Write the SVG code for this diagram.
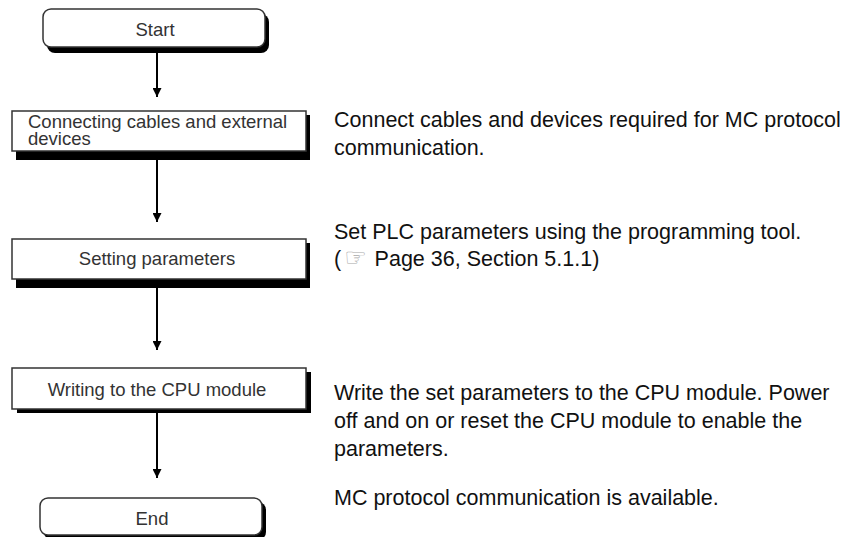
<svg xmlns="http://www.w3.org/2000/svg" width="847" height="537" viewBox="0 0 847 537">
<defs>
<marker id="ah" viewBox="0 0 10 10" refX="10" refY="5" markerWidth="10" markerHeight="9" markerUnits="userSpaceOnUse" orient="auto">
<path d="M0,0 L10,5 L0,10 Z" fill="#000"/>
</marker>
</defs>
<style>
.box{fill:#fff;stroke:#333;stroke-width:1.5}
.sh{fill:#000}
.lbl{font-family:"Liberation Sans",Arial,sans-serif;font-size:18.5px;fill:#333}
.desc{font-family:"Liberation Sans",Arial,sans-serif;font-size:21.5px;fill:#111}
.conn{stroke:#000;stroke-width:2;fill:none}
</style>
<rect width="847" height="537" fill="#fff"/>
<g id="connectors">
<line class="conn" x1="157" y1="52" x2="157" y2="97" marker-end="url(#ah)"/>
<line class="conn" x1="157" y1="160" x2="157" y2="222" marker-end="url(#ah)"/>
<line class="conn" x1="157" y1="288" x2="157" y2="350" marker-end="url(#ah)"/>
<line class="conn" x1="157" y1="413" x2="157" y2="478" marker-end="url(#ah)"/>
</g>
<g id="start">
<rect class="sh" x="47" y="14" width="222" height="39" rx="8"/>
<rect class="box" x="43" y="9" width="222" height="38" rx="8"/>
<text class="lbl" x="155" y="36" text-anchor="middle">Start</text>
</g>
<g id="connecting">
<rect class="sh" x="16" y="115" width="294" height="45"/>
<rect class="box" x="12" y="111" width="294" height="40"/>
<text class="lbl" x="28" y="128" style="font-size:18.5px">Connecting cables and external</text>
<text class="lbl" x="28" y="144.5" style="font-size:18.5px">devices</text>
</g>
<g id="setting">
<rect class="sh" x="16" y="243" width="294" height="45"/>
<rect class="box" x="12" y="239" width="294" height="40"/>
<text class="lbl" x="157" y="265" text-anchor="middle">Setting parameters</text>
</g>
<g id="writing">
<rect class="sh" x="17" y="372" width="294" height="41"/>
<rect class="box" x="12" y="368" width="294" height="41"/>
<text class="lbl" x="157" y="396" text-anchor="middle">Writing to the CPU module</text>
</g>
<g id="end">
<rect class="sh" x="44" y="502" width="222" height="38" rx="8"/>
<rect class="box" x="40" y="498" width="222" height="37" rx="8"/>
<text class="lbl" x="152" y="525" text-anchor="middle">End</text>
</g>
<g id="descriptions">
<text class="desc" x="334" y="127">Connect cables and devices required for MC protocol</text>
<text class="desc" x="334" y="155">communication.</text>
<text class="desc" x="334" y="239">Set PLC parameters using the programming tool.</text>
<text class="desc" x="334" y="266">(<tspan style="font-family:'DejaVu Sans',sans-serif;fill:#aaa;font-size:25px" dx="3">☞</tspan><tspan dx="8">Page 36, Section 5.1.1)</tspan></text>
<text class="desc" x="334" y="400">Write the set parameters to the CPU module. Power</text>
<text class="desc" x="334" y="428">off and on or reset the CPU module to enable the</text>
<text class="desc" x="334" y="456">parameters.</text>
<text class="desc" x="334" y="505">MC protocol communication is available.</text>
</g>
</svg>
